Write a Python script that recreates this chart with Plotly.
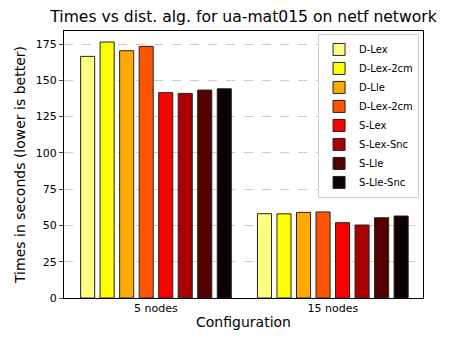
"""
Grouped bar chart: run times per distribution algorithm on netf network.
"""

import plotly.graph_objects as go

configurations = ["5 nodes", "15 nodes"]
algorithms = ["D-Lex", "D-Lex-2cm", "D-Lle", "D-Lex-2cm",
              "S-Lex", "S-Lex-Snc", "S-Lle", "S-Lle-Snc"]
times = [
    [166.5, 58.1],
    [176.4, 58.0],
    [170.4, 59.0],
    [173.4, 59.3],
    [141.5, 51.9],
    [141.0, 50.3],
    [143.3, 55.3],
    [144.2, 56.5],
]
colors = ["#ffff80", "#ffff00", "#ffaa00", "#ff5500",
          "#ff0000", "#aa0000", "#550000", "#0d0000"]
y_ticks = [0, 25, 50, 75, 100, 125, 150, 175]

FONT = "DejaVu Sans"

fig = go.Figure()
for name, vals, col in zip(algorithms, times, colors):
    fig.add_trace(go.Bar(
        x=configurations, y=vals, name=name,
        marker=dict(color=col, line=dict(color="#222222", width=1)),
    ))

# the page body adds an 8px margin, so the figure is 8px smaller
fig.update_layout(
    width=446, height=333,
    margin=dict(l=49, r=31, t=23, b=43),
    paper_bgcolor="white", plot_bgcolor="white",
    font=dict(family=FONT, color="black", size=11),
    barmode="group", bargap=0.117, bargroupgap=0.28,
    title=dict(text="Times vs dist. alg. for ua-mat015 on netf network",
               xref="paper", x=0.5, xanchor="center",
               y=0.973, yanchor="middle",
               font=dict(size=15.6, family=FONT)),
    legend=dict(x=0.989, y=0.989, xanchor="right", yanchor="top",
                bgcolor="white", bordercolor="#cccccc", borderwidth=1,
                font=dict(size=10, family=FONT), tracegroupgap=0,
                itemwidth=30),
    showlegend=True,
)
fig.update_xaxes(
    range=[-0.52, 1.51], showline=True, linecolor="black", linewidth=1,
    mirror=True, ticks="", showgrid=False,
    title=dict(text="Configuration", font=dict(size=14, family=FONT), standoff=2),
)
fig.update_yaxes(
    range=[0, 184], tickvals=y_ticks, showline=True, linecolor="black",
    linewidth=1, mirror=True, ticks="outside", ticklen=4,
    showgrid=True, gridcolor="#cccccc", griddash="dash", gridwidth=0.8,
    zeroline=False,
    title=dict(text="Times in seconds (lower is better)",
               font=dict(size=14, family=FONT), standoff=6),
)

fig.write_html("out.html")
